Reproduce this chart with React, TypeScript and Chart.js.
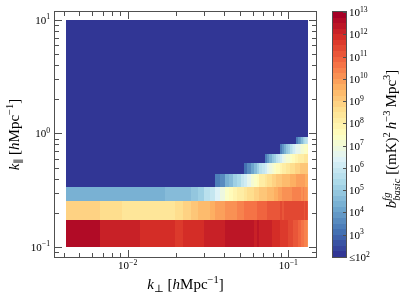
import React, { useEffect, useRef } from "react";
import { Chart, registerables } from "chart.js";

Chart.register(...registerables);

// k_perp bin edges [h/Mpc] (50 linear bins)
const kPerpEdges = [
  0.00411, 0.00669, 0.00927, 0.01185, 0.01443, 0.01701, 0.01959, 0.02217, 0.02475, 0.02733,
  0.02991, 0.03249, 0.03507, 0.03765, 0.04023, 0.04281, 0.04539, 0.04797, 0.05055, 0.05313,
  0.05571, 0.05829, 0.06087, 0.06345, 0.06603, 0.06861, 0.07119, 0.07377, 0.07635, 0.07893,
  0.08151, 0.08409, 0.08667, 0.08925, 0.09183, 0.09441, 0.09699, 0.09957, 0.10215, 0.10473,
  0.10731, 0.10989, 0.11247, 0.11505, 0.11763, 0.12021, 0.12279, 0.12537, 0.12795, 0.13053,
  0.13311,
];

// k_parallel bin edges [h/Mpc]
const kParEdges = [
  0.1, 0.173, 0.254, 0.338, 0.44, 0.549, 0.666, 0.8, 0.93, 1.03, 1.26, 1.61, 2.06, 3.08, 4.09,
  5.12, 6.27, 7.2, 8.3, 9.47, 10.0,
];

// log10 of b_basic^fg per k_parallel row (bottom to top), one value per k_perp bin
const row0 = [
  12.6, 12.2, 12.0, 11.9, 11.8, 11.8, 11.7, 11.8, 11.9, 11.9,
  12.0, 12.1, 12.0, 12.2, 12.3, 12.3, 12.4, 12.4, 12.3, 12.4,
  12.3, 12.3, 12.2, 12.3, 12.2, 12.1, 12.2, 12.0, 12.1, 11.9,
  11.9, 11.8, 11.8, 11.6, 11.7, 11.5, 11.6, 11.4, 11.3, 11.3,
  11.1, 11.2, 11.0, 10.9, 10.8, 10.6, 10.7, 10.4, 10.3, 10.2,
];
const row1 = [
  8.9, 8.5, 8.4, 8.3, 8.3, 8.4, 8.6, 8.9, 9.2, 9.3,
  9.5, 9.7, 9.8, 9.9, 10.0, 10.1, 10.2, 10.3, 10.4, 10.5,
  10.6, 10.6, 10.7, 10.8, 10.8, 10.9, 10.9, 11.0, 11.0, 11.1,
  11.1, 11.2, 11.2, 11.3, 11.2, 11.3, 11.3, 11.4, 11.3, 11.4,
  11.4, 11.3, 11.4, 11.4, 11.3, 11.4, 11.3, 11.2, 11.3, 11.1,
];
const row2 = [
  4.4, 4.3, 4.3, 4.3, 4.4, 4.5, 4.6, 4.6, 4.8, 5.2,
  5.6, 5.9, 6.3, 6.8, 7.3, 7.6, 7.8, 8.0, 8.2, 8.4,
  8.5, 8.7, 8.8, 8.9, 9.0, 9.1, 9.2, 9.3, 9.4, 9.5,
  9.6, 9.7, 9.8, 9.9, 10.0, 10.0, 10.1, 10.2, 10.2, 10.3,
  10.3, 10.4, 10.3, 10.4, 10.3, 10.2, 10.3, 10.1, 10.0, 9.9,
];
const row3 = [
  2, 2, 2, 2, 2, 2, 2, 2, 2, 2,
  2, 2, 3.3, 3.7, 4.3, 4.7, 5.1, 5.4, 5.9, 6.2,
  6.7, 7.0, 7.4, 7.7, 8.0, 8.2, 8.4, 8.5, 8.7, 8.8,
  8.9, 9.0, 9.1, 9.2, 9.3, 9.4, 9.4, 9.5, 9.6, 9.6,
  9.7, 9.7, 9.8, 9.8, 9.9, 9.8, 9.9, 9.8, 9.7, 9.7,
];
const row4 = [
  2, 2, 2, 2, 2, 2, 2, 2, 2, 2,
  2, 2, 2, 2, 2, 2, 2, 2, 2, 3.2,
  3.7, 4.2, 4.7, 5.1, 5.5, 5.9, 6.2, 6.5, 6.8, 7.1,
  7.3, 7.5, 7.7, 7.9, 8.0, 8.2, 8.3, 8.4, 8.5, 8.6,
  8.7, 8.8, 8.8, 8.9, 9.0, 9.0, 9.1, 9.1, 9.1, 9.2,
];
const row5 = [
  2, 2, 2, 2, 2, 2, 2, 2, 2, 2,
  2, 2, 2, 2, 2, 2, 2, 2, 2, 2,
  2, 2, 2, 2, 2, 2, 3.3, 3.8, 4.3, 4.8,
  5.2, 5.6, 5.9, 6.2, 6.5, 6.8, 7.0, 7.2, 7.4, 7.5,
  7.7, 7.8, 7.9, 8.0, 8.1, 8.1, 8.2, 8.3, 8.3, 8.4,
];
const row6 = [
  2, 2, 2, 2, 2, 2, 2, 2, 2, 2,
  2, 2, 2, 2, 2, 2, 2, 2, 2, 2,
  2, 2, 2, 2, 2, 2, 2, 2, 2, 2,
  2, 2, 2, 3.4, 3.9, 4.4, 4.8, 5.2, 5.5, 5.8,
  6.1, 6.3, 6.5, 6.7, 6.9, 7.0, 7.2, 7.3, 7.4, 7.5,
];
const row7 = [
  2, 2, 2, 2, 2, 2, 2, 2, 2, 2,
  2, 2, 2, 2, 2, 2, 2, 2, 2, 2,
  2, 2, 2, 2, 2, 2, 2, 2, 2, 2,
  2, 2, 2, 2, 2, 2, 2, 2, 2, 2,
  2, 2, 3.3, 3.8, 4.2, 4.6, 5.0, 5.3, 5.6, 5.9,
];
// rows above: everything at or below 10^2
const floorRow = [
  2, 2, 2, 2, 2, 2, 2, 2, 2, 2,
  2, 2, 2, 2, 2, 2, 2, 2, 2, 2,
  2, 2, 2, 2, 2, 2, 2, 2, 2, 2,
  2, 2, 2, 2, 2, 2, 2, 2, 2, 2,
  2, 2, 2, 2, 2, 2, 2, 2, 2, 2,
];
const heatRows = [
  row0, row1, row2, row3, row4, row5, row6, row7,
  floorRow, floorRow, floorRow, floorRow, floorRow, floorRow,
  floorRow, floorRow, floorRow, floorRow, floorRow, floorRow,
];

const cbMinExp = 2;
const cbMaxExp = 13;
const cbLevels = 44;
const cbTickExps = [13, 12, 11, 10, 9, 8, 7, 6, 5, 4, 3];
const xTickExps = [-2, -1];
const yTickExps = [-1, 0, 1];

// RdYlBu_r anchors
const cmapAnchors = [
  [49, 54, 149], [69, 117, 180], [116, 173, 209], [171, 217, 233], [224, 243, 248],
  [255, 255, 191], [254, 224, 144], [253, 174, 97], [244, 109, 67], [215, 48, 39], [165, 0, 38],
];

function cmap(t: number): string {
  const tt = Math.max(0, Math.min(1, t)) * (cmapAnchors.length - 1);
  const i = Math.min(cmapAnchors.length - 2, Math.floor(tt));
  const f = tt - i;
  const a = cmapAnchors[i], b = cmapAnchors[i + 1];
  const c = [0, 1, 2].map((k) => Math.round(a[k] + (b[k] - a[k]) * f));
  return `rgb(${c[0]},${c[1]},${c[2]})`;
}
function colorFor(v: number): string {
  let idx = Math.floor(((v - cbMinExp) / (cbMaxExp - cbMinExp)) * cbLevels);
  idx = Math.max(0, Math.min(cbLevels - 1, idx));
  return cmap(idx / (cbLevels - 1));
}

type Seg = { t: string; s: number; it?: boolean; dy?: number; na?: boolean };
const FONT = '"Liberation Serif", "DejaVu Serif", serif';
const fontOf = (g: Seg) => `${g.it ? "italic " : ""}${g.s}px ${FONT}`;
function richWidth(ctx: CanvasRenderingContext2D, segs: Seg[]) {
  let w = 0;
  for (const g of segs) {
    ctx.font = fontOf(g);
    if (!g.na) w += ctx.measureText(g.t).width;
  }
  return w;
}
function drawRich(ctx: CanvasRenderingContext2D, segs: Seg[], x: number, y: number, align: string) {
  const w = richWidth(ctx, segs);
  let cx = align === "center" ? x - w / 2 : align === "right" ? x - w : x;
  ctx.textAlign = "left";
  ctx.textBaseline = "alphabetic";
  for (const g of segs) {
    ctx.font = fontOf(g);
    ctx.fillText(g.t, cx, y + (g.dy || 0));
    if (!g.na) cx += ctx.measureText(g.t).width;
  }
}
const pow10 = (e: number, prefix = ""): Seg[] => {
  const segs: Seg[] = [];
  if (prefix) segs.push({ t: prefix, s: 11 });
  segs.push({ t: "10", s: 11 });
  segs.push({ t: e < 0 ? "\u2212" + Math.abs(e) : String(e), s: 7.7, dy: -4.5 });
  return segs;
};

const LS = 15;
const SS = 10.5;
const xLabel: Seg[] = [
  { t: "k", s: LS, it: true },
  { t: "\u22A5", s: SS, dy: 3 },
  { t: " [", s: LS },
  { t: "h", s: LS, it: true },
  { t: "Mpc", s: LS },
  { t: "\u22121", s: SS, dy: -6 },
  { t: "]", s: LS },
];
const yLabel: Seg[] = [
  { t: "k", s: LS, it: true },
  { t: "\u2225", s: SS, dy: 3 },
  { t: " [", s: LS },
  { t: "h", s: LS, it: true },
  { t: "Mpc", s: LS },
  { t: "\u22121", s: SS, dy: -6 },
  { t: "]", s: LS },
];
const cbLabel: Seg[] = [
  { t: "b", s: LS, it: true },
  { t: "fg", s: SS, it: true, dy: -6, na: true },
  { t: "basic", s: SS, it: true, dy: 4 },
  { t: " [(mK)", s: LS },
  { t: "2", s: SS, dy: -6 },
  { t: "\u2009", s: LS },
  { t: "h", s: LS, it: true },
  { t: "\u22123", s: SS, dy: -6 },
  { t: "\u2009Mpc", s: LS },
  { t: "3", s: SS, dy: -6 },
  { t: "]", s: LS },
];
const CB_LABEL_LEN = 152;

const AXIS_COLOR = "#505050";

const heatPlugin = {
  id: "heatmapDraw",
  afterDraw(chart: any) {
    const ctx: CanvasRenderingContext2D = chart.ctx;
    const xs = chart.scales.x;
    const ys = chart.scales.y;
    const cs = chart.scales.cb;
    const ca = chart.chartArea;
    ctx.save();

    // heatmap cells (edges snapped to whole pixels so cells meet without seams)
    const px = (v: number) => Math.round(xs.getPixelForValue(v));
    const py = (v: number) => Math.round(ys.getPixelForValue(v));
    for (let r = 0; r < heatRows.length; r++) {
      const row = heatRows[r];
      const yTop = py(kParEdges[r + 1]);
      const yBot = py(kParEdges[r]);
      for (let c = 0; c < row.length; c++) {
        const x0 = px(kPerpEdges[c]);
        const x1 = px(kPerpEdges[c + 1]);
        ctx.fillStyle = colorFor(row[c]);
        ctx.fillRect(x0, yTop, x1 - x0, yBot - yTop);
      }
    }

    // frame
    ctx.strokeStyle = AXIS_COLOR;
    ctx.lineWidth = 1;
    ctx.strokeRect(ca.left - 0.5, ca.top - 0.5, ca.right - ca.left + 1, ca.bottom - ca.top + 1);

    // ticks (inward)
    const tick = (x0: number, y0: number, x1: number, y1: number) => {
      ctx.beginPath();
      ctx.moveTo(x0, y0);
      ctx.lineTo(x1, y1);
      ctx.stroke();
    };
    for (let d = -4; d <= 1; d++) {
      for (let m = 1; m <= 9; m++) {
        const v = m * Math.pow(10, d);
        const len = m === 1 ? 7 : 4;
        if (v >= xs.min && v <= xs.max) {
          const tx = Math.round(xs.getPixelForValue(v)) + 0.5;
          tick(tx, ca.bottom, tx, ca.bottom - len);
          tick(tx, ca.top, tx, ca.top + len);
        }
        if (v >= ys.min && v <= ys.max) {
          const ty = Math.round(ys.getPixelForValue(v)) + 0.5;
          tick(ca.left, ty, ca.left + len, ty);
          tick(ca.right, ty, ca.right - len, ty);
        }
      }
    }

    // tick labels
    ctx.fillStyle = "#000";
    for (const e of xTickExps) {
      const tx = xs.getPixelForValue(Math.pow(10, e));
      drawRich(ctx, pow10(e), tx, ca.bottom + 12, "center");
    }
    for (const e of yTickExps) {
      const ty = ys.getPixelForValue(Math.pow(10, e));
      drawRich(ctx, pow10(e), ca.left - 5, ty + 4, "right");
    }

    // axis labels
    drawRich(ctx, xLabel, (ca.left + ca.right) / 2, 289, "center");
    ctx.save();
    ctx.translate(19, (ca.top + ca.bottom) / 2);
    ctx.rotate(-Math.PI / 2);
    drawRich(ctx, yLabel, 0, 0, "center");
    ctx.restore();

    // colorbar
    const cbL = ca.right + 17;
    const cbR = ca.right + 30;
    for (let k = 0; k < cbLevels; k++) {
      const lo = cbMinExp + ((cbMaxExp - cbMinExp) * k) / cbLevels;
      const hi = cbMinExp + ((cbMaxExp - cbMinExp) * (k + 1)) / cbLevels;
      const yHi = Math.round(cs.getPixelForValue(Math.pow(10, hi)));
      const yLo = Math.round(cs.getPixelForValue(Math.pow(10, lo)));
      ctx.fillStyle = cmap(k / (cbLevels - 1));
      ctx.fillRect(cbL, yHi, cbR - cbL, yLo - yHi);
    }
    ctx.strokeStyle = AXIS_COLOR;
    ctx.strokeRect(cbL - 0.5, cs.top - 0.5, cbR - cbL + 1, cs.bottom - cs.top + 1);
    ctx.fillStyle = "#000";
    for (const e of cbTickExps) {
      const ty = cs.getPixelForValue(Math.pow(10, e));
      const tr = Math.round(ty) + 0.5;
      ctx.strokeStyle = AXIS_COLOR;
      tick(cbR - 3, tr, cbR, tr);
      drawRich(ctx, pow10(e), cbR + 3, ty + 4, "left");
    }
    drawRich(ctx, pow10(cbMinExp, "\u2264"), cbR + 3, cs.getPixelForValue(Math.pow(10, cbMinExp)) + 4, "left");

    // colorbar label, sized to the reference's extent
    const k = Math.min(1, CB_LABEL_LEN / richWidth(ctx, cbLabel));
    const scaled = cbLabel.map((g) => ({ ...g, s: g.s * k, dy: (g.dy || 0) * k }));
    ctx.save();
    ctx.translate(396, 139);
    ctx.rotate(-Math.PI / 2);
    drawRich(ctx, scaled, 0, 0, "center");
    ctx.restore();

    ctx.restore();
  },
};

export default function App() {
  const ref = useRef<HTMLCanvasElement | null>(null);
  useEffect(() => {
    if (!ref.current) return;
    const chart = new Chart(ref.current, {
      type: "scatter",
      data: { datasets: [{ data: [] }] },
      options: {
        animation: false,
        responsive: false,
        devicePixelRatio: 1,
        layout: { padding: { left: 55, top: 12, right: 91, bottom: 43 } },
        plugins: { legend: { display: false }, tooltip: { enabled: false } },
        scales: {
          x: { type: "logarithmic", display: false, min: 0.003526, max: 0.1488 },
          y: { type: "logarithmic", display: false, min: 0.08163, max: 11.76 },
          cb: { type: "logarithmic", axis: "y", display: false, min: 1e2, max: 1e13 },
        },
      },
      plugins: [heatPlugin],
    } as any);
    return () => chart.destroy();
  }, []);
  return (
    <div style={{ position: "fixed", left: 0, top: 0, width: 407, height: 300, background: "#fff" }}>
      <canvas ref={ref} width={407} height={300} style={{ display: "block", width: 407, height: 300 }} />
    </div>
  );
}
